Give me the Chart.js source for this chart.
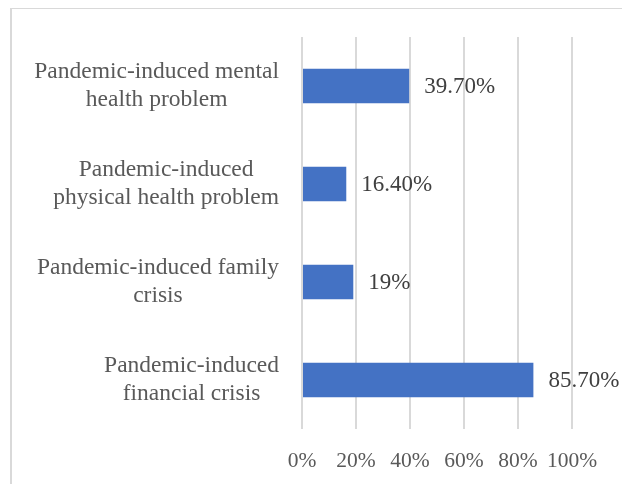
<!DOCTYPE html>
<html>
<head>
<meta charset="utf-8">
<script src="https://cdn.jsdelivr.net/npm/chart.js@4.4.1/dist/chart.umd.min.js"></script>
<style>
  html, body { margin: 0; padding: 0; background: #fff; }
  #wrap { position: relative; width: 622px; height: 484px; overflow: hidden; }
  #frame {
    position: absolute; left: 10px; top: 8px; width: 700px; height: 600px;
    border-left: 2px solid #d9d9d9; border-top: 1px solid #d9d9d9;
    pointer-events: none;
  }
  canvas { position: absolute; left: 0; top: 0; }
</style>
</head>
<body>
<div id="wrap">
  <div id="frame"></div>
  <canvas id="chart" width="622" height="484"></canvas>
</div>
<script>
// categories (top to bottom), split into lines as in the picture
const categories = [
    ["Pandemic-induced mental", "health problem"],
    ["Pandemic-induced", "physical health problem"],
    ["Pandemic-induced family", "crisis"],
    ["Pandemic-induced", "financial crisis"]
];
const values = [39.7, 16.4, 19, 85.7];
const valueLabels = ["39.70%", "16.40%", "19%", "85.70%"];
const xTicks = [0, 20, 40, 60, 80, 100];

const FONT = '"Liberation Serif", "Times New Roman", serif';
const TEXT = "#595959";

// category names drawn by hand so each block is right aligned with centred lines
const catLabels = {
    id: "catLabels",
    afterDraw(chart) {
        const ctx = chart.ctx;
        const yScale = chart.scales.y;
        const right = 279;
        const lineH = 28;
        ctx.save();
        ctx.font = "23.5px " + FONT;
        ctx.fillStyle = TEXT;
        ctx.textAlign = "center";
        ctx.textBaseline = "middle";
        categories.forEach((lines, i) => {
            const yc = yScale.getPixelForValue(i);
            const widest = Math.max(...lines.map(l => ctx.measureText(l).width));
            const cx = right - widest / 2;
            const y0 = yc - (lines.length - 1) * lineH / 2;
            lines.forEach((l, k) => ctx.fillText(l, cx, y0 + k * lineH));
        });
        ctx.restore();
    }
};

// value labels to the right of each bar
const barLabels = {
    id: "barLabels",
    afterDatasetsDraw(chart) {
        const ctx = chart.ctx;
        const meta = chart.getDatasetMeta(0);
        ctx.save();
        ctx.font = "23px " + FONT;
        ctx.fillStyle = "#404040";
        ctx.textAlign = "left";
        ctx.textBaseline = "middle";
        meta.data.forEach((bar, i) => {
            ctx.fillText(valueLabels[i], bar.x + 15, bar.y + 1);
        });
        ctx.restore();
    }
};

new Chart(document.getElementById("chart"), {
    type: "bar",
    data: {
        labels: categories.map(c => c.join(" ")),
        datasets: [{
            data: values,
            backgroundColor: "#4472C4",
            borderWidth: 0,
            barPercentage: 0.352,
            categoryPercentage: 1
        }]
    },
    options: {
        indexAxis: "y",
        responsive: false,
        animation: false,
        layout: { padding: { left: 302, right: 50, top: 37, bottom: 0 } },
        plugins: {
            legend: { display: false },
            tooltip: { enabled: false }
        },
        scales: {
            x: {
                min: 0,
                max: 100,
                afterBuildTicks: (scale) => { scale.ticks = xTicks.map(v => ({ value: v })); },
                afterFit: (scale) => { scale.height = 55; },
                grid: { color: "#d9d9d9", lineWidth: 2, drawTicks: false },
                border: { display: false },
                ticks: {
                    padding: 19,
                    color: TEXT,
                    font: { family: FONT, size: 21.5 },
                    callback: (v) => v + "%",
                    maxRotation: 0
                }
            },
            y: {
                display: false
            }
        }
    },
    plugins: [catLabels, barLabels]
});
</script>
</body>
</html>
